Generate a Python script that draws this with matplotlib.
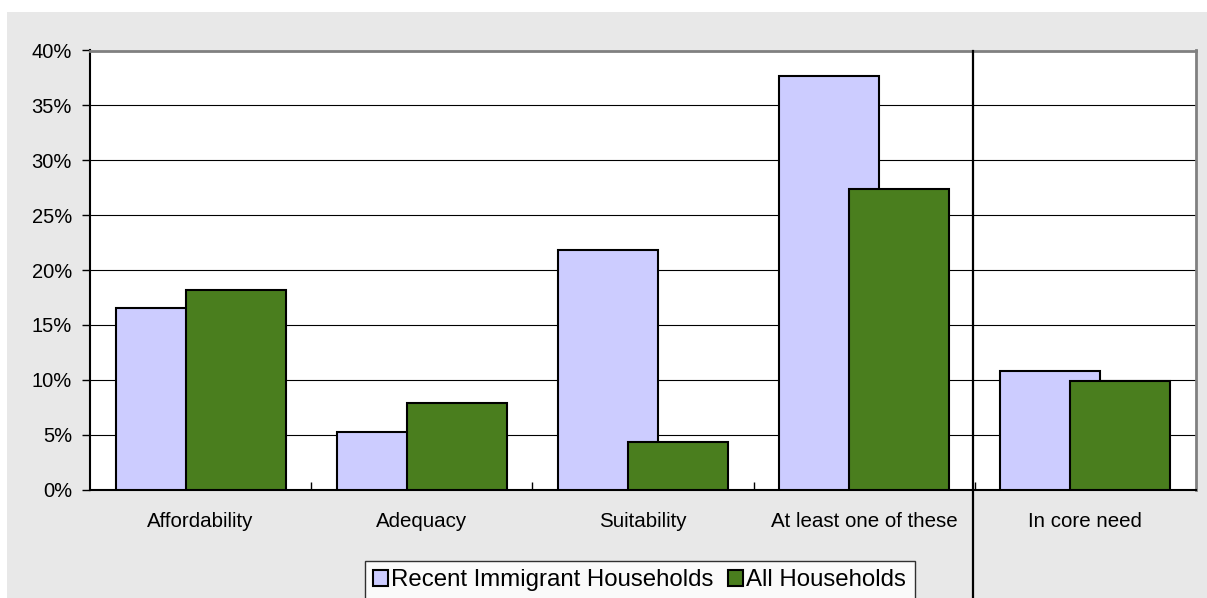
import numpy as np
import matplotlib.pyplot as plt
from matplotlib.patches import Rectangle
from matplotlib.lines import Line2D
from matplotlib.ticker import PercentFormatter

plt.rcParams['font.family'] = ['Liberation Sans', 'DejaVu Sans']

categories = ['Affordability', 'Adequacy', 'Suitability', 'At least one of these', 'In core need']
recent_immigrant = [16.5, 5.25, 21.8, 37.7, 10.8]
all_households = [18.15, 7.85, 4.3, 27.4, 9.9]
series_names = ['Recent Immigrant Households', 'All Households']

W, H = 1207, 598
fig = plt.figure(figsize=(W / 100, H / 100), dpi=100)

# grey chart panel behind everything
fig.patches.append(Rectangle((7 / W, 0), 1 - 7 / W, (H - 12) / H,
                             transform=fig.transFigure, facecolor='#e8e8e8',
                             edgecolor='none', zorder=-10))

ax = fig.add_axes([90 / W, (H - 489.5) / H, (1196 - 90) / W, (489.5 - 50.5) / H])
ax.set_facecolor('white')

x = np.arange(len(categories))
bw = 0.452
off = 0.158
ax.bar(x - off, recent_immigrant, bw, color='#ccccff', edgecolor='black', linewidth=1.5, zorder=3,
       label=series_names[0])
ax.bar(x + off, all_households, bw, color='#4a7e1e', edgecolor='black', linewidth=1.5, zorder=4,
       label=series_names[1])

ax.set_xlim(-0.5, len(categories) - 0.5)
ax.set_ylim(0, 40)
ax.set_yticks(np.arange(0, 41, 5))
ax.yaxis.set_major_formatter(PercentFormatter(decimals=0))
ax.yaxis.grid(True, color='black', linewidth=0.8, zorder=1)
ax.set_axisbelow(True)

ax.set_xticks(x)
ax.set_xticklabels(categories)
ax.set_xticks(np.arange(0.5, len(categories) - 1, 1), minor=True)
ax.tick_params(axis='x', which='major', length=0, pad=16, labelsize=14.8)
ax.tick_params(axis='x', which='minor', direction='in', length=6, width=1)
ax.tick_params(axis='y', length=6, width=1, pad=7, labelsize=14.5)

for side in ['top', 'right']:
    ax.spines[side].set_color('#808080')
    ax.spines[side].set_linewidth(2)
for side in ['left', 'bottom']:
    ax.spines[side].set_color('black')
    ax.spines[side].set_linewidth(1.5)

# separator between the detail categories and core need
fig.add_artist(Line2D([973 / W, 973 / W], [0, (H - 50.5) / H], transform=fig.transFigure,
                      color='black', linewidth=1.6, zorder=5))

leg = fig.legend(loc='upper left', bbox_to_anchor=(365 / W, (H - 561) / H), ncol=2,
                 fontsize=17.3, frameon=True, fancybox=False, edgecolor='black',
                 handlelength=0.6, handleheight=0.6, handletextpad=0.15, columnspacing=0.6,
                 borderpad=0.35, borderaxespad=0)
leg.get_frame().set_linewidth(1)

fig.savefig('out.png', dpi=100)
